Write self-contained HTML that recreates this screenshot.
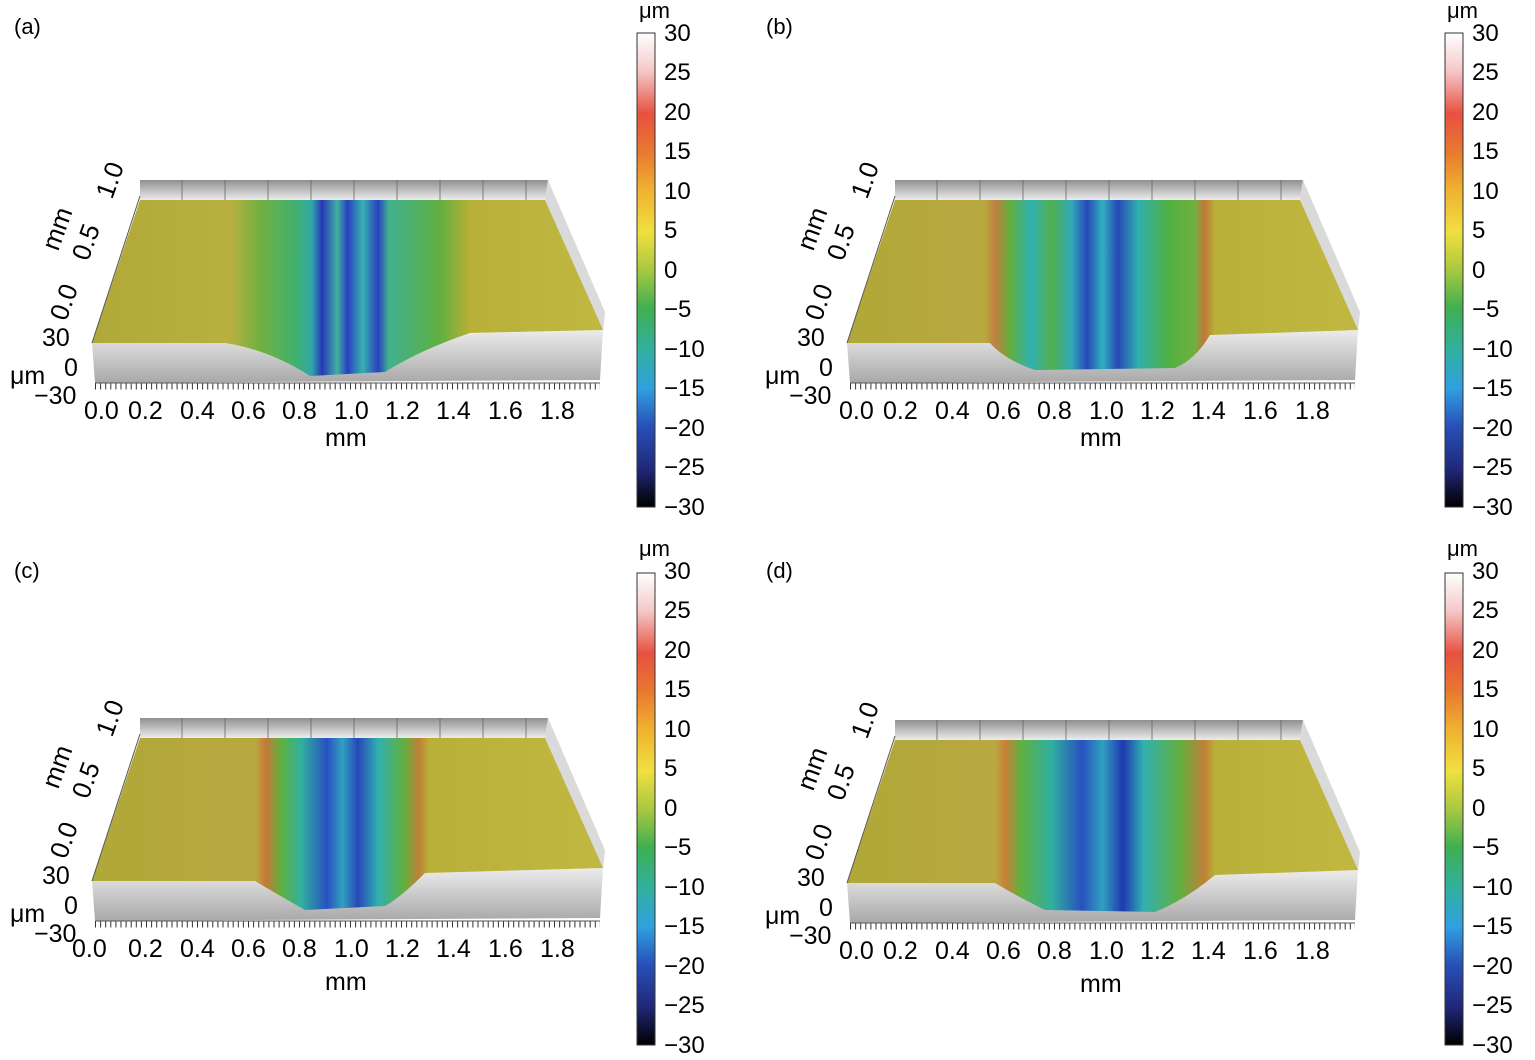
<!DOCTYPE html>
<html><head><meta charset="utf-8"><style>
html,body{margin:0;padding:0;background:#fff;}
svg{display:block;font-family:"Liberation Sans",Arial,sans-serif;}
</style></head><body>
<svg width="1535" height="1060" viewBox="0 0 1535 1060" xmlns="http://www.w3.org/2000/svg">
<defs>
<linearGradient id="cb" x1="0" y1="0" x2="0" y2="1">
<stop offset="0" stop-color="#ffffff"/><stop offset="0.08" stop-color="#f4c8c8"/><stop offset="0.17" stop-color="#e85040"/><stop offset="0.25" stop-color="#e87830"/><stop offset="0.33" stop-color="#f0b030"/><stop offset="0.42" stop-color="#f0e040"/><stop offset="0.5" stop-color="#a8c840"/><stop offset="0.58" stop-color="#40b050"/><stop offset="0.67" stop-color="#30b0a0"/><stop offset="0.75" stop-color="#30a0e0"/><stop offset="0.83" stop-color="#2850b8"/><stop offset="0.92" stop-color="#202878"/><stop offset="1" stop-color="#000000"/>
</linearGradient>
<linearGradient id="wall" x1="0" y1="0" x2="0" y2="1"><stop offset="0" stop-color="#909090"/><stop offset="1" stop-color="#ececec"/></linearGradient>
<linearGradient id="front" x1="0" y1="0" x2="0" y2="1"><stop offset="0" stop-color="#ececec"/><stop offset="1" stop-color="#a8a8a8"/></linearGradient>
<linearGradient id="ga" gradientUnits="userSpaceOnUse" x1="92" y1="0" x2="603" y2="0">
<stop offset="0" stop-color="#b0a838"/><stop offset="0.27" stop-color="#b8b040"/><stop offset="0.33" stop-color="#70b040"/><stop offset="0.4" stop-color="#40b070"/><stop offset="0.43" stop-color="#30a8a8"/><stop offset="0.45" stop-color="#2838b8"/><stop offset="0.48" stop-color="#40b0a0"/><stop offset="0.5" stop-color="#2840c0"/><stop offset="0.53" stop-color="#38b0b0"/><stop offset="0.56" stop-color="#2840c0"/><stop offset="0.58" stop-color="#40b090"/><stop offset="0.68" stop-color="#60b040"/><stop offset="0.74" stop-color="#b8b038"/><stop offset="1" stop-color="#c0b840"/>
</linearGradient>
<linearGradient id="gb" gradientUnits="userSpaceOnUse" x1="92" y1="0" x2="603" y2="0">
<stop offset="0" stop-color="#b0a838"/><stop offset="0.27" stop-color="#b8a840"/><stop offset="0.29" stop-color="#c08040"/><stop offset="0.32" stop-color="#60b040"/><stop offset="0.36" stop-color="#30b0b0"/><stop offset="0.4" stop-color="#50b050"/><stop offset="0.44" stop-color="#30a8b8"/><stop offset="0.47" stop-color="#2848b8"/><stop offset="0.5" stop-color="#30b0c0"/><stop offset="0.53" stop-color="#2848b8"/><stop offset="0.57" stop-color="#30b0b0"/><stop offset="0.63" stop-color="#50b040"/><stop offset="0.68" stop-color="#70b040"/><stop offset="0.7" stop-color="#c07838"/><stop offset="0.72" stop-color="#b8b038"/><stop offset="1" stop-color="#c0b840"/>
</linearGradient>
<linearGradient id="gc" gradientUnits="userSpaceOnUse" x1="92" y1="0" x2="603" y2="0">
<stop offset="0" stop-color="#b0a838"/><stop offset="0.32" stop-color="#b8a840"/><stop offset="0.34" stop-color="#c87838"/><stop offset="0.37" stop-color="#60b040"/><stop offset="0.41" stop-color="#30b0a0"/><stop offset="0.46" stop-color="#2850c0"/><stop offset="0.49" stop-color="#30a0c0"/><stop offset="0.52" stop-color="#2848b8"/><stop offset="0.56" stop-color="#30b0b0"/><stop offset="0.61" stop-color="#60b040"/><stop offset="0.64" stop-color="#c08038"/><stop offset="0.66" stop-color="#b8b038"/><stop offset="1" stop-color="#c0b840"/>
</linearGradient>
<linearGradient id="gd" gradientUnits="userSpaceOnUse" x1="92" y1="0" x2="603" y2="0">
<stop offset="0" stop-color="#b0a838"/><stop offset="0.29" stop-color="#b8a840"/><stop offset="0.31" stop-color="#c88038"/><stop offset="0.34" stop-color="#60b040"/><stop offset="0.4" stop-color="#30b0a0"/><stop offset="0.46" stop-color="#2850c0"/><stop offset="0.5" stop-color="#30a0c0"/><stop offset="0.54" stop-color="#2038b0"/><stop offset="0.58" stop-color="#30b0b0"/><stop offset="0.65" stop-color="#60b040"/><stop offset="0.7" stop-color="#c08038"/><stop offset="0.72" stop-color="#b8b038"/><stop offset="1" stop-color="#c0b840"/>
</linearGradient>
</defs>

<!-- ===== Panel a ===== -->
<g transform="translate(0,0)">
<text x="14" y="34" font-size="22">(a)</text>
<polygon points="140,180 548,180 545,200 140,200" fill="url(#wall)"/>
<path d="M182,180V200M225,180V200M268,180V200M311,180V200M354,180V200M397,180V200M440,180V200M483,180V200M526,180V200" stroke="#666" stroke-width="0.8"/>
<polygon points="548,180 605,312 603,332 545,200" fill="#dadada"/>
<polygon points="92,343 603,330 600,380 95,383" fill="url(#front)"/>
<path d="M140,200 L545,200 L603,330 L470,333 Q420,350 385,372 L310,376 Q270,350 225,343 L92,343Z" fill="url(#ga)"/>
<path d="M95,386H600" stroke="#333" stroke-width="7" stroke-dasharray="1 4.1"/>
<path d="M95,383H600M92,343L140,196" stroke="#555" stroke-width="1"/>
<text font-size="25" y="419"><tspan x="84">0.0</tspan><tspan x="128">0.2</tspan><tspan x="180">0.4</tspan><tspan x="231">0.6</tspan><tspan x="282">0.8</tspan><tspan x="334">1.0</tspan><tspan x="385">1.2</tspan><tspan x="436">1.4</tspan><tspan x="488">1.6</tspan><tspan x="540">1.8</tspan></text>
<text x="325" y="446" font-size="25">mm</text>
<text x="42" y="346" font-size="25">30</text><text x="64" y="376" font-size="25">0</text><text x="34" y="404" font-size="25">−30</text><text x="10" y="384" font-size="25">μm</text>
<text font-size="26" transform="translate(66,322) rotate(-70)">0.0</text>
<text font-size="26" transform="translate(88,262) rotate(-70)">0.5</text>
<text font-size="26" transform="translate(112,200) rotate(-70)">1.0</text>
<text font-size="26" transform="translate(58,252) rotate(-70)">mm</text>
<rect x="637" y="33" width="18" height="474" fill="url(#cb)" stroke="#333" stroke-width="1"/>
<text x="639" y="18" font-size="22">μm</text>
<g font-size="24"><text x="664" y="41">30</text><text x="664" y="80">25</text><text x="664" y="120">20</text><text x="664" y="159">15</text><text x="664" y="199">10</text><text x="664" y="238">5</text><text x="664" y="278">0</text><text x="664" y="317">−5</text><text x="664" y="357">−10</text><text x="664" y="396">−15</text><text x="664" y="436">−20</text><text x="664" y="475">−25</text><text x="664" y="515">−30</text></g>
</g>

<!-- ===== Panel b ===== -->
<g transform="translate(755,0)">
<text x="11" y="34" font-size="22">(b)</text>
<polygon points="140,180 548,180 545,200 140,200" fill="url(#wall)"/>
<path d="M182,180V200M225,180V200M268,180V200M311,180V200M354,180V200M397,180V200M440,180V200M483,180V200M526,180V200" stroke="#666" stroke-width="0.8"/>
<polygon points="548,180 605,312 603,332 545,200" fill="#dadada"/>
<polygon points="92,343 603,330 600,380 95,383" fill="url(#front)"/>
<path d="M140,200 L545,200 L603,330 L455,335 Q440,360 420,368 L280,370 Q250,360 235,343 L92,343Z" fill="url(#gb)"/>
<path d="M95,386H600" stroke="#333" stroke-width="7" stroke-dasharray="1 4.1"/>
<path d="M95,383H600M92,343L140,196" stroke="#555" stroke-width="1"/>
<text font-size="25" y="419"><tspan x="84">0.0</tspan><tspan x="128">0.2</tspan><tspan x="180">0.4</tspan><tspan x="231">0.6</tspan><tspan x="282">0.8</tspan><tspan x="334">1.0</tspan><tspan x="385">1.2</tspan><tspan x="436">1.4</tspan><tspan x="488">1.6</tspan><tspan x="540">1.8</tspan></text>
<text x="325" y="446" font-size="25">mm</text>
<text x="42" y="346" font-size="25">30</text><text x="64" y="376" font-size="25">0</text><text x="34" y="404" font-size="25">−30</text><text x="10" y="384" font-size="25">μm</text>
<text font-size="26" transform="translate(66,322) rotate(-70)">0.0</text>
<text font-size="26" transform="translate(88,262) rotate(-70)">0.5</text>
<text font-size="26" transform="translate(112,200) rotate(-70)">1.0</text>
<text font-size="26" transform="translate(58,252) rotate(-70)">mm</text>
<rect x="690" y="33" width="18" height="474" fill="url(#cb)" stroke="#333" stroke-width="1"/>
<text x="692" y="18" font-size="22">μm</text>
<g font-size="24"><text x="717" y="41">30</text><text x="717" y="80">25</text><text x="717" y="120">20</text><text x="717" y="159">15</text><text x="717" y="199">10</text><text x="717" y="238">5</text><text x="717" y="278">0</text><text x="717" y="317">−5</text><text x="717" y="357">−10</text><text x="717" y="396">−15</text><text x="717" y="436">−20</text><text x="717" y="475">−25</text><text x="717" y="515">−30</text></g>
</g>

<!-- ===== Panel c ===== -->
<g transform="translate(0,538)">
<text x="14" y="40" font-size="22">(c)</text>
<polygon points="140,180 548,180 545,200 140,200" fill="url(#wall)"/>
<path d="M182,180V200M225,180V200M268,180V200M311,180V200M354,180V200M397,180V200M440,180V200M483,180V200M526,180V200" stroke="#666" stroke-width="0.8"/>
<polygon points="548,180 605,312 603,332 545,200" fill="#dadada"/>
<polygon points="92,343 603,330 600,380 95,383" fill="url(#front)"/>
<path d="M140,200 L545,200 L603,330 L425,335 Q400,360 385,368 L305,372 Q275,355 255,343 L92,343Z" fill="url(#gc)"/>
<path d="M95,386H600" stroke="#333" stroke-width="7" stroke-dasharray="1 4.1"/>
<path d="M95,383H600M92,343L140,196" stroke="#555" stroke-width="1"/>
<text font-size="25" y="419"><tspan x="72">0.0</tspan><tspan x="128">0.2</tspan><tspan x="180">0.4</tspan><tspan x="231">0.6</tspan><tspan x="282">0.8</tspan><tspan x="334">1.0</tspan><tspan x="385">1.2</tspan><tspan x="436">1.4</tspan><tspan x="488">1.6</tspan><tspan x="540">1.8</tspan></text>
<text x="325" y="452" font-size="25">mm</text>
<text x="42" y="346" font-size="25">30</text><text x="64" y="376" font-size="25">0</text><text x="34" y="404" font-size="25">−30</text><text x="10" y="384" font-size="25">μm</text>
<text font-size="26" transform="translate(66,322) rotate(-70)">0.0</text>
<text font-size="26" transform="translate(88,262) rotate(-70)">0.5</text>
<text font-size="26" transform="translate(112,200) rotate(-70)">1.0</text>
<text font-size="26" transform="translate(58,252) rotate(-70)">mm</text>
<rect x="637" y="35" width="18" height="472" fill="url(#cb)" stroke="#333" stroke-width="1"/>
<text x="639" y="18" font-size="22">μm</text>
<g font-size="24"><text x="664" y="41">30</text><text x="664" y="80">25</text><text x="664" y="120">20</text><text x="664" y="159">15</text><text x="664" y="199">10</text><text x="664" y="238">5</text><text x="664" y="278">0</text><text x="664" y="317">−5</text><text x="664" y="357">−10</text><text x="664" y="396">−15</text><text x="664" y="436">−20</text><text x="664" y="475">−25</text><text x="664" y="515">−30</text></g>
</g>

<!-- ===== Panel d ===== -->
<g transform="translate(755,540)">
<text x="11" y="38" font-size="22">(d)</text>
<polygon points="140,180 548,180 545,200 140,200" fill="url(#wall)"/>
<path d="M182,180V200M225,180V200M268,180V200M311,180V200M354,180V200M397,180V200M440,180V200M483,180V200M526,180V200" stroke="#666" stroke-width="0.8"/>
<polygon points="548,180 605,312 603,332 545,200" fill="#dadada"/>
<polygon points="92,343 603,330 600,380 95,383" fill="url(#front)"/>
<path d="M140,200 L545,200 L603,330 L460,335 Q430,360 400,372 L290,370 Q260,355 240,343 L92,343Z" fill="url(#gd)"/>
<path d="M95,386H600" stroke="#333" stroke-width="7" stroke-dasharray="1 4.1"/>
<path d="M95,383H600M92,343L140,196" stroke="#555" stroke-width="1"/>
<text font-size="25" y="419"><tspan x="84">0.0</tspan><tspan x="128">0.2</tspan><tspan x="180">0.4</tspan><tspan x="231">0.6</tspan><tspan x="282">0.8</tspan><tspan x="334">1.0</tspan><tspan x="385">1.2</tspan><tspan x="436">1.4</tspan><tspan x="488">1.6</tspan><tspan x="540">1.8</tspan></text>
<text x="325" y="452" font-size="25">mm</text>
<text x="42" y="346" font-size="25">30</text><text x="64" y="376" font-size="25">0</text><text x="34" y="404" font-size="25">−30</text><text x="10" y="384" font-size="25">μm</text>
<text font-size="26" transform="translate(66,322) rotate(-70)">0.0</text>
<text font-size="26" transform="translate(88,262) rotate(-70)">0.5</text>
<text font-size="26" transform="translate(112,200) rotate(-70)">1.0</text>
<text font-size="26" transform="translate(58,252) rotate(-70)">mm</text>
<rect x="690" y="33" width="18" height="472" fill="url(#cb)" stroke="#333" stroke-width="1"/>
<text x="692" y="16" font-size="22">μm</text>
<g font-size="24"><text x="717" y="39">30</text><text x="717" y="78">25</text><text x="717" y="118">20</text><text x="717" y="157">15</text><text x="717" y="197">10</text><text x="717" y="236">5</text><text x="717" y="276">0</text><text x="717" y="315">−5</text><text x="717" y="355">−10</text><text x="717" y="394">−15</text><text x="717" y="434">−20</text><text x="717" y="473">−25</text><text x="717" y="513">−30</text></g>
</g>
</svg>
</body></html>
